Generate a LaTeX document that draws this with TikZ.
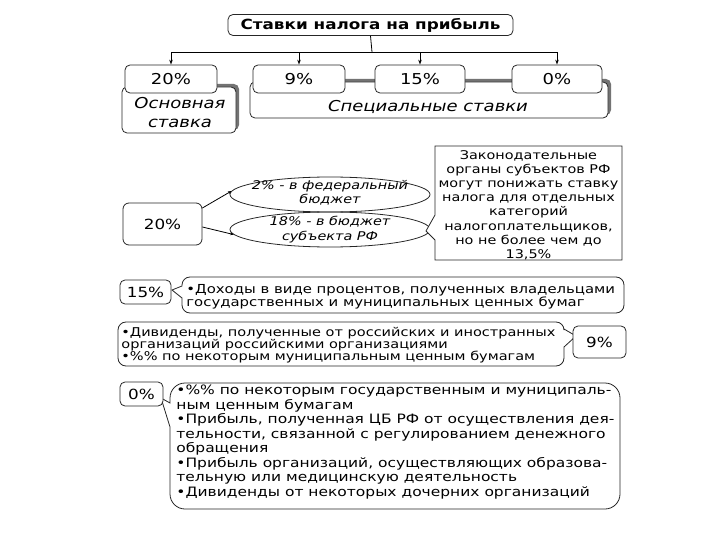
\documentclass[tikz,border=0pt]{standalone}
\usepackage{fontspec}
\setmainfont{DejaVu Sans}[FakeStretch=1.2]
\usetikzlibrary{arrows.meta,shapes.geometric}
\begin{document}
\begin{tikzpicture}[x=1pt,y=-1pt,line width=0.8pt,
  box/.style={draw=black!85,rounded corners=5pt,fill=white,inner sep=0pt},
  shad/.style={fill=black!55,rounded corners=5pt},
  outline/.style={draw=black!85,fill=white},
  arr/.style={-{Stealth[length=5pt,width=3.5pt]}},
  sarr/.style={-{Stealth[length=3.5pt,width=3pt]}},
  pct/.style={font=\fontsize{15}{18}\selectfont},
  pcts/.style={font=\fontsize{14}{17}\selectfont},
  lst/.style={anchor=west,align=left,inner sep=0pt}
]
\useasboundingbox (0,0) rectangle (720,540);

% ---- top section ----
\node[box,minimum width=285,minimum height=21,font=\fontsize{14}{17}\selectfont\bfseries] (title) at (370.5,25) {Ставки налога на прибыль};
\coordinate (hub) at (372,52);

\fill[shad] (125,84) rectangle (239,130);
\node[box,minimum width=114,minimum height=46] (osn) at (179,110) {};
\node[font=\fontsize{15}{19}\selectfont\itshape,align=center] (osnt) at (180,113) {Основная\\ставка};

\fill[shad] (253,79) rectangle (611,115);
\node[box,minimum width=358,minimum height=36] (spec) at (429,100) {};
\node[font=\fontsize{15}{18}\selectfont\itshape] (spect) at (428,107) {Специальные ставки};

\node[box,pct,minimum width=92,minimum height=28] (b20) at (171,79) {20\%};
\node[box,pct,minimum width=92,minimum height=28] (b9) at (299,79) {9\%};
\node[box,pct,minimum width=90,minimum height=28] (b15) at (420,79) {15\%};
\node[box,pct,minimum width=90,minimum height=28] (b0) at (557,79) {0\%};

\draw (title.south) -- (hub);
\draw[arr] (hub) -| (b20.north);
\draw[arr] (hub) -| (b9.north);
\draw[arr] (hub) -| (b15.north);
\draw[arr] (hub) -| (b0.north);

% ---- middle section ----
\node[box,pcts,rounded corners=6pt,minimum width=79,minimum height=42] (m20) at (162.5,224) {20\%};
\node[ellipse,draw=black!85,minimum width=200,minimum height=35,inner sep=0pt] (e1) at (330,194.5) {};
\node[ellipse,draw=black!85,minimum width=200,minimum height=35,inner sep=0pt] (e2) at (330,229.5) {};
\node[font=\fontsize{12}{14}\selectfont\itshape,align=center] (e1t) at (330,193) {2\% - в федеральный\\бюджет};
\node[font=\fontsize{12}{15}\selectfont\itshape,align=center] (e2t) at (330,230) {18\% - в бюджет\\субъекта РФ};
\draw[sarr] ([yshift=16pt]m20.east) -- (e1.178);
\draw[sarr] ([yshift=-3pt]m20.east) -- (e2.183);

\draw[outline] (435,240) -- (435,260) -- (622,260) -- (622,146) -- (435,146) -- (435,215) -- (426,231) -- cycle;
\node[font=\fontsize{12}{14.2}\selectfont,align=center] (law) at (528.5,205) {Законодательные\\органы субъектов РФ\\могут понижать ставку\\налога для отдельных\\категорий\\налогоплательщиков,\\но не более чем до\\13,5\%};

% ---- 15% ----
\draw[outline] (182,286) [rounded corners=8pt] -- (182,277) -- (624,277) -- (624,313) -- (182,313) [sharp corners] -- (182,298) -- (172,290) -- cycle;
\node[box,pcts,minimum width=51,minimum height=24] (c15) at (145.5,292) {15\%};
\node[lst,font=\fontsize{12.4}{13.3}\selectfont] (t15) at (186,296.5) {•Доходы в виде процентов, полученных владельцами\\государственных и муниципальных ценных бумаг};

% ---- 9% ----
\draw[outline] (564,347) [rounded corners=8pt] -- (564,366) -- (118,366) -- (118,322) -- (564,322) [sharp corners] -- (564,329) -- (576,336) -- cycle;
\node[box,pcts,minimum width=53,minimum height=32] (c9) at (599.5,342) {9\%};
\node[lst,font=\fontsize{12.1}{12}\selectfont] (t9) at (121,345) {•Дивиденды, полученные от российских и иностранных\\организаций российскими организациями\\•\%\% по некоторым муниципальным ценным бумагам};

% ---- 0% ----
\draw[outline] (170,427) [rounded corners=15pt] -- (170,509) -- (620,509) -- (620,383) -- (170,383) [sharp corners] -- (170,403) -- (161,398) -- cycle;
\node[box,pcts,minimum width=43,minimum height=24] (c0) at (141.5,394) {0\%};
\node[lst,font=\fontsize{12.9}{14.5}\selectfont] (t0) at (176,442) {•\%\% по некоторым государственным и муниципаль-\\ным ценным бумагам\\•Прибыль, полученная ЦБ РФ от осуществления дея-\\тельности, связанной с регулированием денежного\\обращения\\•Прибыль организаций, осуществляющих образова-\\тельную или медицинскую деятельность\\•Дивиденды от некоторых дочерних организаций};
\end{tikzpicture}
\end{document}
